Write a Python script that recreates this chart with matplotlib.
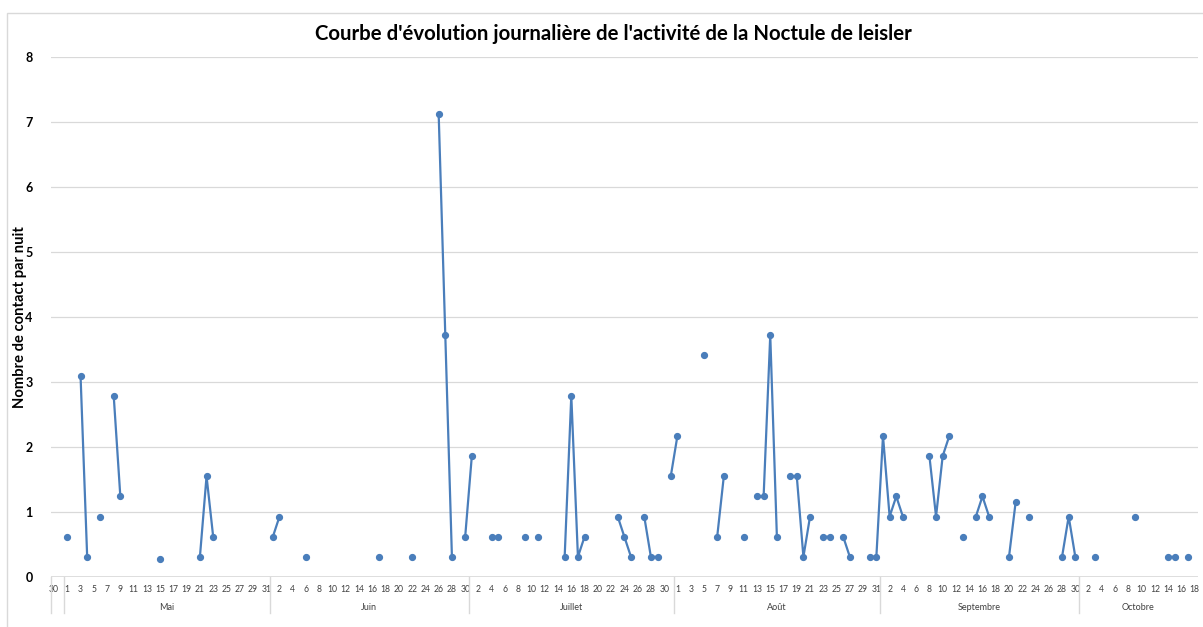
import numpy as np
import matplotlib.pyplot as plt
from matplotlib.patches import Rectangle
from matplotlib import transforms

plt.rcParams['font.family'] = ['Lato', 'DejaVu Sans']

# contacts per night, by month: day of the month and value
mai_jours = [1, 3, 4, 6, 8, 9, 15, 21, 22, 23]
mai_valeurs = [0.62, 3.10, 0.31, 0.93, 2.79, 1.24, 0.27, 0.31, 1.55, 0.62]

juin_jours = [1, 2, 6, 17, 22, 26, 27, 28, 30]
juin_valeurs = [0.62, 0.93, 0.31, 0.31, 0.31, 7.13, 3.72, 0.31, 0.62]

juillet_jours = [1, 4, 5, 9, 11, 15, 16, 17, 18, 23, 24, 25, 27, 28, 29, 31]
juillet_valeurs = [1.86, 0.62, 0.62, 0.62, 0.62, 0.31, 2.79, 0.31, 0.62,
                   0.93, 0.62, 0.31, 0.93, 0.31, 0.31, 1.55]

aout_jours = [1, 5, 7, 8, 11, 13, 14, 15, 16, 18, 19, 20, 21, 23, 24, 26, 27, 30, 31]
aout_valeurs = [2.17, 3.41, 0.62, 1.55, 0.62, 1.24, 1.24, 3.72, 0.62, 1.55,
                1.55, 0.31, 0.93, 0.62, 0.62, 0.62, 0.31, 0.31, 0.31]

septembre_jours = [1, 2, 3, 4, 8, 9, 10, 11, 13, 15, 16, 17, 20, 21, 23, 28, 29, 30]
septembre_valeurs = [2.17, 0.93, 1.24, 0.93, 1.86, 0.93, 1.86, 2.17, 0.62,
                     0.93, 1.24, 0.93, 0.31, 1.15, 0.93, 0.31, 0.93, 0.31]

octobre_jours = [3, 9, 14, 15, 17]
octobre_valeurs = [0.31, 0.93, 0.31, 0.31, 0.31]

mois = ['Mai', 'Juin', 'Juillet', 'Août', 'Septembre', 'Octobre']
nb_jours = [31, 30, 31, 31, 30, 18]

# one category per night, starting with 30 April
debut = np.concatenate([[1], 1 + np.cumsum(nb_jours)[:-1]])
n = 1 + sum(nb_jours)
jour = np.concatenate([[30]] + [np.arange(1, k + 1) for k in nb_jours])

serie = np.full(n, np.nan)
for d0, jj, vv in zip(debut,
                      [mai_jours, juin_jours, juillet_jours, aout_jours, septembre_jours, octobre_jours],
                      [mai_valeurs, juin_valeurs, juillet_valeurs, aout_valeurs, septembre_valeurs, octobre_valeurs]):
    for j, v in zip(jj, vv):
        serie[d0 + j - 1] = v

W, H = 1203, 627
fig = plt.figure(figsize=(W / 100, H / 100), dpi=100)
ax = fig.add_axes([50.7 / W, (H - 577) / H, (1198 - 50.7) / W, 520 / H])

x = np.arange(n)
ax.plot(x, serie, color='#4a7ebb', lw=1.6, marker='o', ms=4.2, zorder=3)

ax.set_xlim(-1.5, n - 0.5)
ax.set_ylim(0, 8)
for s in ax.spines.values():
    s.set_visible(False)
ax.set_yticks(range(9))
ax.set_yticklabels([str(i) for i in range(9)], fontweight='bold', fontsize=9)
ax.tick_params(axis='y', length=0, pad=13)
ax.yaxis.grid(True, color='#d9d9d9', lw=0.9)
ax.axhline(0, color='#d9d9d9', lw=1.2, zorder=2)

pos = [-1] + list(range(1, n, 2))
lab = [str(jour[0])] + [str(jour[i]) for i in range(1, n, 2)]
ax.set_xticks(pos)
ax.set_xticklabels(lab, fontsize=6.2, color='#404040')
ax.tick_params(axis='x', length=0, pad=6)

trans = transforms.blended_transform_factory(ax.transData, ax.transAxes)
bornes = [-1.5, 0.5] + list(debut[1:] - 0.5)
for b in bornes:
    ax.plot([b, b], [0, -0.069], color='#d9d9d9', lw=1, transform=trans, clip_on=False)
fins = list(debut[1:] - 0.5) + [n - 0.5]
for m, a, b in zip(mois, [0.5] + list(debut[1:] - 0.5), fins):
    ax.text((a + b) / 2, -0.058, m, transform=trans, ha='center', va='center',
            fontsize=6.5, color='#404040')

fig.text(613 / W, 1 - 34 / H, "Courbe d'évolution journalière de l'activité de la Noctule de leisler",
         ha='center', va='center', fontsize=14.7, fontweight='bold')
fig.text(20 / W, 1 - 317 / H, 'Nombre de contact par nuit', rotation=90,
         ha='center', va='center', fontsize=10.6, fontweight='bold')

fig.add_artist(Rectangle((7 / W, -0.1), 1.0, (H - 13) / H + 0.1, transform=fig.transFigure,
                         fill=False, ec='#d9d9d9', lw=1))

fig.savefig('out.png', dpi=100)
